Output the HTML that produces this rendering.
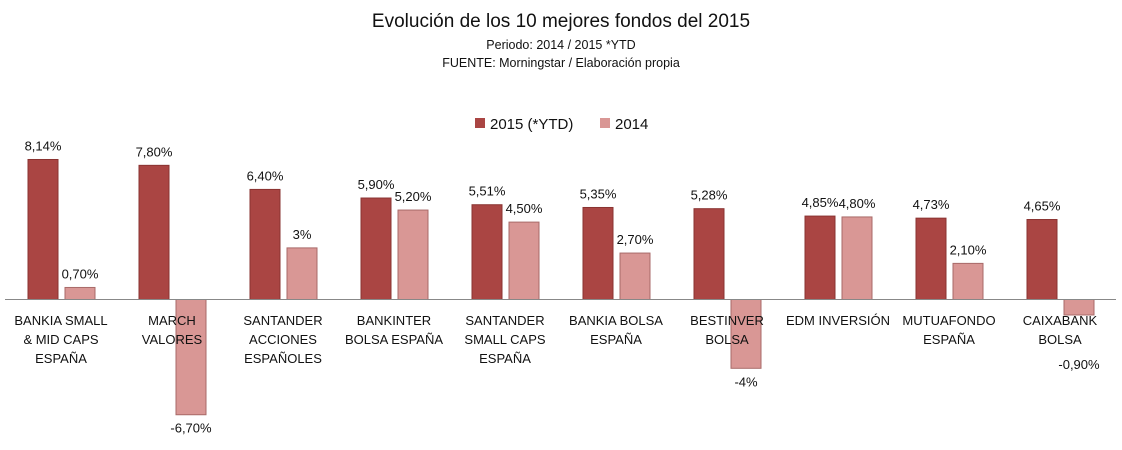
<!DOCTYPE html>
<html><head><meta charset="utf-8"><style>
body{margin:0;background:#fff;width:1122px;height:445px;overflow:hidden;font-family:"Liberation Sans",sans-serif}
svg text{font-family:"Liberation Sans",sans-serif;fill:#111}
</style></head><body>
<svg id="chart" width="1122" height="445" xmlns="http://www.w3.org/2000/svg">
<text x="561" y="27" text-anchor="middle" font-size="19">Evolución de los 10 mejores fondos del 2015</text>
<text x="561" y="49" text-anchor="middle" font-size="12.5">Periodo: 2014 / 2015 *YTD</text>
<text x="561" y="67" text-anchor="middle" font-size="12.5">FUENTE: Morningstar / Elaboración propia</text>
<g>
<rect x="475" y="118" width="10" height="10" fill="#aa4543"/>
<text x="490" y="129" font-size="15">2015 (*YTD)</text>
<rect x="600" y="118" width="10" height="10" fill="#d99795"/>
<text x="615" y="129" font-size="15">2014</text>
</g>
<g id="bars"></g>
<line x1="5" y1="299.5" x2="1116" y2="299.5" stroke="#888" stroke-width="1"/>
<g id="labels"></g>
</svg>
<script>
const categories=[["BANKIA SMALL","& MID CAPS","ESPAÑA"],["MARCH","VALORES"],["SANTANDER","ACCIONES","ESPAÑOLES"],["BANKINTER","BOLSA ESPAÑA"],["SANTANDER","SMALL CAPS","ESPAÑA"],["BANKIA BOLSA","ESPAÑA"],["BESTINVER","BOLSA"],["EDM INVERSIÓN"],["MUTUAFONDO","ESPAÑA"],["CAIXABANK","BOLSA"]];
const values2015=[8.14,7.80,6.40,5.90,5.51,5.35,5.28,4.85,4.73,4.65];
const values2014=[0.70,-6.70,3,5.20,4.50,2.70,-4,4.80,2.10,-0.90];
const labels2015=["8,14%","7,80%","6,40%","5,90%","5,51%","5,35%","5,28%","4,85%","4,73%","4,65%"];
const labels2014=["0,70%","-6,70%","3%","5,20%","4,50%","2,70%","-4%","4,80%","2,10%","-0,90%"];
const NS="http://www.w3.org/2000/svg";
const zeroY=299.5, pxPerUnit=17.2;
const y=v=>zeroY-v*pxPerUnit;
const xc=i=>61+111*i;
const bars=document.getElementById('bars'), labs=document.getElementById('labels');
function mk(tag,attrs,parent){const e=document.createElementNS(NS,tag);for(const k in attrs)e.setAttribute(k,attrs[k]);parent.appendChild(e);return e;}
categories.forEach((c,i)=>{
  [[values2015[i],labels2015[i],-33,"#aa4543","#8a3331","2015"],[values2014[i],labels2014[i],4,"#d99795","#a86a68","2014"]].forEach(([v,l,off,fill,stroke,s])=>{
    const x=xc(i)+off, top=Math.min(y(v),zeroY), h=Math.abs(y(v)-zeroY);
    const r=mk('rect',{x:x,y:top,width:30,height:h,fill:fill,stroke:stroke,'stroke-width':1},bars);
    
    
    const ty=v>=0?y(v)-9:Math.max(y(v)+18,369);
    const t=mk('text',{x:x+15,y:ty,'text-anchor':'middle','font-size':13},labs);
    t.textContent=l;
    
    
  });
  c.forEach((line,j)=>{
    const t=mk('text',{x:xc(i),y:325+j*19,'text-anchor':'middle','font-size':13},labs);
    t.textContent=line;
    
    
  });
});
</script>
</body></html>
